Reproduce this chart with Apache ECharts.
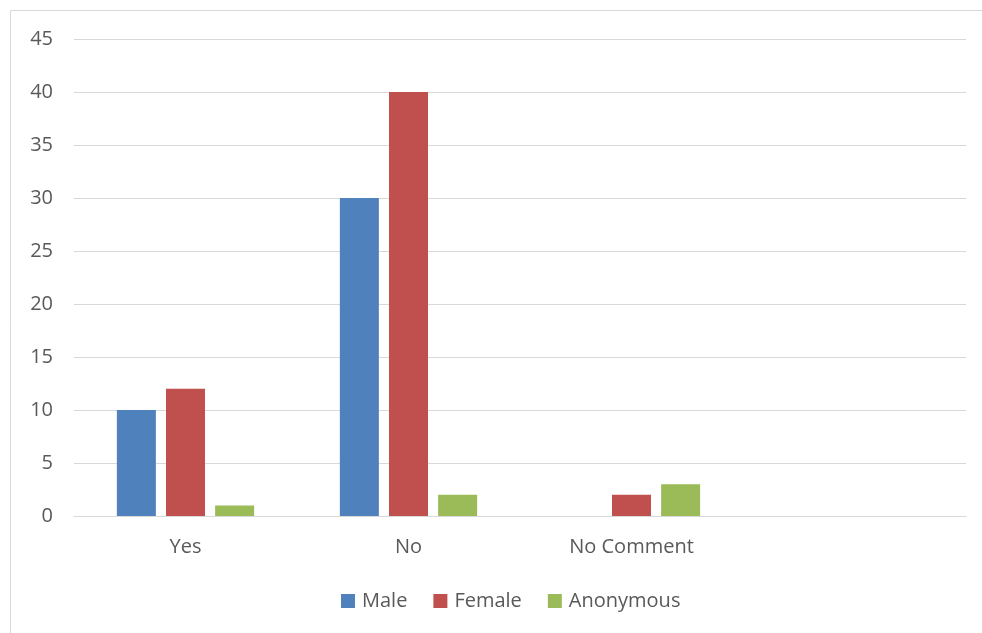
<!DOCTYPE html>
<html>
<head>
<meta charset="utf-8">
<script src="https://cdn.jsdelivr.net/npm/echarts@6/dist/echarts.min.js"></script>
<style>
  html, body { margin: 0; padding: 0; background: #fff; overflow: hidden; }
  #chart { width: 982px; height: 633px; }
</style>
</head>
<body>
<div id="chart"></div>
<script>
// Survey responses by respondent group
const categories = ['Yes', 'No', 'No Comment', ''];
const male = [10, 30, 0, null];
const female = [12, 40, 2, null];
const anonymous = [1, 2, 3, null];
const yTicks = { min: 0, max: 45, interval: 5 };

const textColor = '#595959';
const gridColor = '#D9D9D9';
const fontFamily = '"Open Sans", "DejaVu Sans", sans-serif';

const chart = echarts.init(document.getElementById('chart'), null, { renderer: 'canvas' });

function barSeries(name, data, color) {
  return {
    name: name,
    type: 'bar',
    data: data,
    barWidth: 39,
    barGap: '26%',
    itemStyle: { color: color },
    emphasis: { disabled: true }
  };
}

chart.setOption({
  animation: false,
  textStyle: { fontFamily: fontFamily },
  graphic: [{
    type: 'rect',
    shape: { x: 10.5, y: 10.5, width: 1000, height: 700 },
    style: { fill: 'none', stroke: gridColor, lineWidth: 1 },
    silent: true
  }],
  grid: { left: 74, right: 16, top: 39, bottom: 117, containLabel: false },
  legend: {
    bottom: 17,
    left: 336,
    itemWidth: 14,
    itemHeight: 14,
    itemGap: 26,
    icon: 'rect',
    textStyle: { color: textColor, fontSize: 20, fontFamily: fontFamily, padding: [0, 0, 0, 2] },
    data: ['Male', 'Female', 'Anonymous']
  },
  xAxis: {
    type: 'category',
    data: categories,
    axisLine: { lineStyle: { color: gridColor, width: 1 } },
    axisTick: { show: false },
    axisLabel: { color: textColor, fontSize: 20, margin: 21, fontFamily: fontFamily }
  },
  yAxis: {
    type: 'value',
    min: yTicks.min,
    max: yTicks.max,
    interval: yTicks.interval,
    axisLine: { show: false },
    axisTick: { show: false },
    splitLine: { lineStyle: { color: gridColor, width: 1 } },
    axisLabel: { color: textColor, fontSize: 20, margin: 21, fontFamily: fontFamily }
  },
  series: [
    barSeries('Male', male, '#4F81BD'),
    barSeries('Female', female, '#C0504D'),
    barSeries('Anonymous', anonymous, '#9BBB59')
  ]
});
</script>
</body>
</html>
